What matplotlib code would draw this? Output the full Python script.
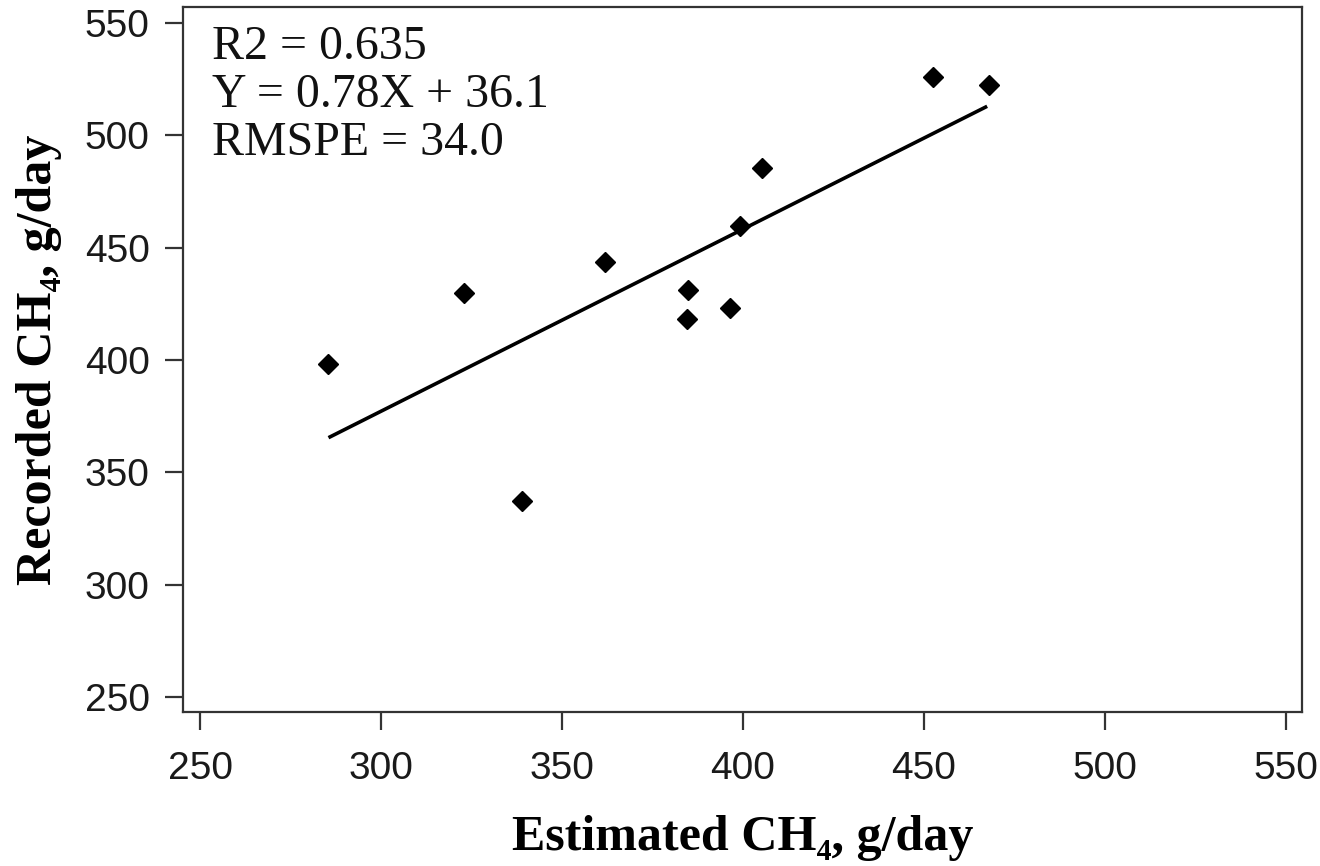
import matplotlib
matplotlib.use("Agg")
import matplotlib.pyplot as plt

# Data
estimated = [285.3, 323.0, 338.9, 361.9, 384.9, 384.7, 396.4, 399.2, 405.4, 452.6, 467.9]
recorded = [398.2, 429.7, 337.4, 443.5, 431.2, 418.3, 423.0, 459.8, 485.4, 525.8, 522.3]
fit_x = [285.5, 467.5]
fit_y = [365.4, 512.9]
ticks = [250, 300, 350, 400, 450, 500, 550]
stats_lines = ["R2 = 0.635", "Y = 0.78X + 36.1", "RMSPE = 34.0"]

serif = ["Liberation Serif", "DejaVu Serif"]
sans = ["Liberation Sans", "DejaVu Sans"]

fig = plt.figure(figsize=(13.2, 8.66), dpi=100)
ax = fig.add_axes([183/1320, 1 - 712/866, (1302-183)/1320, (712-7)/866])

ax.plot(fit_x, fit_y, color="black", lw=2.6, solid_capstyle="butt", zorder=2)
ax.plot(estimated, recorded, linestyle="none", marker="D", markersize=10,
        color="black", zorder=3)

ax.set_xlim(245.3, 554.5)
ax.set_ylim(243.3, 557.1)
ax.set_xticks(ticks)
ax.set_yticks(ticks)
ax.set_xticklabels([str(t) for t in ticks], family=sans, fontsize=28)
ax.set_yticklabels([str(t) for t in ticks], family=sans, fontsize=28)

for s in ax.spines.values():
    s.set_linewidth(1.6)
    s.set_color("#333333")
ax.tick_params(axis="both", direction="out", length=13, width=1.6,
               color="#333333", labelcolor="#1a1a1a")
ax.tick_params(axis="x", pad=15)
ax.tick_params(axis="y", pad=11)

ax.set_xlabel("Estimated CH\u2084, g/day", family=serif, fontsize=36,
              fontweight="bold", labelpad=20)
ax.set_ylabel("Recorded CH\u2084, g/day", family=serif, fontsize=36,
              fontweight="bold", labelpad=16)

ax.text(0.026, 0.975, "\n".join(stats_lines), transform=ax.transAxes,
        family=serif, fontsize=34.5, va="top", ha="left", linespacing=1.13,
        color="#111111")

fig.savefig("out.png", dpi=100)
